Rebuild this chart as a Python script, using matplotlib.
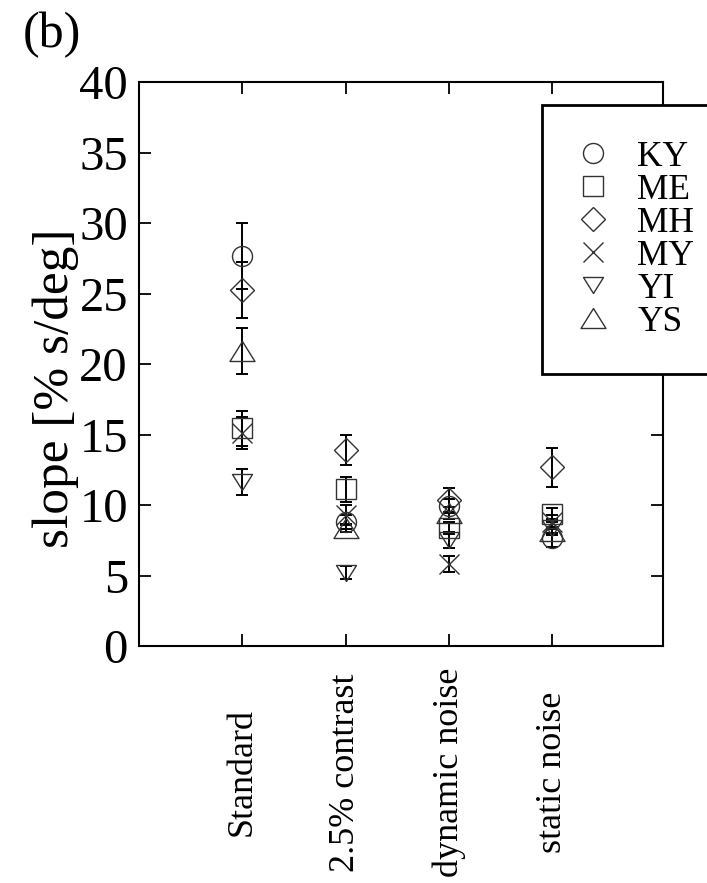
import matplotlib
matplotlib.use("Agg")
import matplotlib.pyplot as plt
import numpy as np

plt.rcParams['font.family'] = ['Liberation Serif', 'DejaVu Serif']

conditions = ["Standard", "2.5% contrast", "dynamic noise", "static noise"]
subjects = ["KY", "ME", "MH", "MY", "YI", "YS"]

KY = [27.66, 8.82, 9.93, 7.64]
KY_err = [2.36, 0.50, 0.50, 0.65]
ME = [15.44, 11.11, 8.37, 9.38]
ME_err = [1.25, 0.87, 0.45, 0.40]
MH = [25.25, 13.90, 10.35, 12.67]
MH_err = [1.97, 1.04, 0.83, 1.38]
MY = [15.09, 9.29, 5.79, 8.82]
MY_err = [1.13, 0.69, 0.57, 0.50]
YI = [11.63, 5.21, 7.52, 8.40]
YI_err = [0.95, 0.48, 0.55, 0.40]
YS = [20.89, 8.37, 9.43, 8.17]
YS_err = [1.63, 0.30, 0.40, 0.30]

yticks = [0, 5, 10, 15, 20, 25, 30, 35, 40]

values = [KY, ME, MH, MY, YI, YS]
errors = [KY_err, ME_err, MH_err, MY_err, YI_err, YS_err]

up_tri = [(0, 0.8), (-1, -0.8), (1, -0.8), (0, 0.8)]
down_tri = [(0, -0.8), (-1, 0.8), (1, 0.8), (0, -0.8)]
markers = ['o', 's', 'D', 'x', down_tri, up_tri]
sizes = [14.4, 14.4, 12.5, 14.4, 14.4, 18.0]

fig = plt.figure(figsize=(7.07, 8.83), dpi=100)
ax = fig.add_axes([0.1966, 0.2684, 0.7408, 0.6387])

x = np.arange(1, len(conditions) + 1)
for name, v, e, m, s in zip(subjects, values, errors, markers, sizes):
    ax.errorbar(x, v, yerr=e, fmt='none', ecolor='black', elinewidth=1.4,
                capsize=4.5, capthick=1.4, zorder=2)
    ax.plot(x, v, linestyle='none', marker=m, markersize=s, markerfacecolor='none',
            markeredgecolor='#333333', markeredgewidth=1.0, label=name, zorder=3)

ax.set_xlim(0, 5.07)
ax.set_ylim(0, 40)
ax.set_yticks(yticks)
ax.set_xticks(x)
ax.set_xticklabels(conditions, rotation=90, va='center', ha='center', fontsize=26)
ax.tick_params(axis='x', direction='in', length=8.6, width=1.3, top=True, bottom=True, pad=91)
ax.tick_params(axis='y', direction='in', length=8.6, width=1.3, left=True, right=True,
               labelsize=35, pad=8)
for sp in ax.spines.values():
    sp.set_linewidth(1.5)

ax.set_ylabel("slope [% s/deg]", fontsize=37)
ax.yaxis.set_label_coords(-0.115, 0.457)

leg = ax.legend(loc='upper left', bbox_to_anchor=(0.770, 0.959), fontsize=25.5,
                frameon=True, fancybox=False, shadow=False, framealpha=1,
                edgecolor='black', borderpad=1.0, labelspacing=0.0,
                handlelength=0.88, handletextpad=0.8, borderaxespad=0)
leg.get_frame().set_linewidth(2)
leg.set_clip_on(False)

fig.text(0.032, 0.987, "(b)", fontsize=36, va='top', ha='left')

fig.savefig("out.png", dpi=100)
